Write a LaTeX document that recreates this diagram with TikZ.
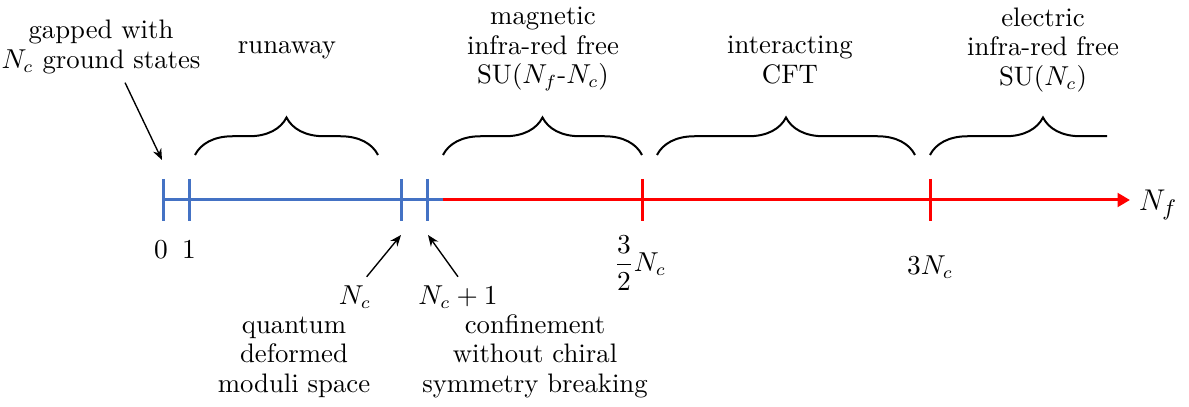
\documentclass[tikz,border=0pt]{standalone}
\usepackage{amsmath}
\usetikzlibrary{arrows.meta, decorations.pathreplacing}
\definecolor{axisblue}{RGB}{68,114,196}
\definecolor{axisred}{RGB}{255,0,0}

\begin{document}
\begin{tikzpicture}[
    x=0.4pt, y=0.4pt,
    every node/.style={align=center, font=\fontsize{10.7}{11.8}\selectfont},
    axis/.style={line width=1.2pt},
    tickmark/.style={line width=1.2pt},
    arrow/.style={-{Stealth[length=4.5pt, width=3.6pt]}, line width=0.55pt},
    phase/.style={decorate, decoration={brace, amplitude=15pt}, line width=0.8pt}
]
\useasboundingbox (0,0) rectangle (1189,407);

% points on the N_f axis
\coordinate (p0) at (163,207);
\coordinate (p1) at (189,207);
\coordinate (pNc) at (401,207);
\coordinate (pNcone) at (427,207);
\coordinate (pmid) at (443,207);
\coordinate (pthreehalf) at (642,207);
\coordinate (pthree) at (930,207);
\coordinate (pend) at (1130,207);

\draw[axis, axisblue] (p0) -- (pmid);
\draw[axis, axisred, -{Triangle[length=5pt, width=5.5pt]}] (pmid) -- (pend);

\draw[tickmark, axisblue] ([yshift=8.4pt]p0) -- ([yshift=-8.4pt]p0);
\draw[tickmark, axisblue] ([yshift=8.4pt]p1) -- ([yshift=-8.4pt]p1);
\draw[tickmark, axisblue] ([yshift=8.4pt]pNc) -- ([yshift=-8.4pt]pNc);
\draw[tickmark, axisblue] ([yshift=8.4pt]pNcone) -- ([yshift=-8.4pt]pNcone);
\draw[tickmark, axisred] ([yshift=8.4pt]pthreehalf) -- ([yshift=-8.4pt]pthreehalf);
\draw[tickmark, axisred] ([yshift=8.4pt]pthree) -- ([yshift=-8.4pt]pthree);

\node (lblzero) at (161,157) {$0$};
\node (lblone) at (189,157) {$1$};
\node (lblthreehalf) at (640,144) {$\dfrac{3}{2}N_c$};
\node (lblthree) at (930,140) {$3N_c$};
\node[font=\fontsize{13}{15}\selectfont] (lblNf) at (1158,202) {$N_f$};

% phases above the axis
\node (gap) at (101,360) {gapped with\\$N_c$ ground states};
\node (runaway) at (287,357) {runaway};
\node (magnetic) at (543,358) {magnetic\\infra-red free\\SU($N_f$-$N_c$)};
\node (cft) at (790,347) {interacting\\CFT};
\node (electric) at (1043,357) {electric\\infra-red free\\SU($N_c$)};

\draw[phase] (195,252) -- (378,252);
\draw[phase] (443,252) -- (642,252);
\draw[phase] (657,252) -- (915,252);
\begin{scope}
  \clip (920,220) rectangle (1107,300);
  \draw[phase] (930,252) -- (1156,252);
\end{scope}

% special points below the axis
\node (lblNc) at (355,110) {$N_c$};
\node (lblNcone) at (458,110) {$N_c+1$};
\node (quantum) at (294,50) {quantum\\deformed\\moduli space};
\node (confine) at (535,51) {confinement\\without chiral\\symmetry breaking};

\coordinate (tipgap) at (162,247);
\coordinate (tipNc) at (401,172);
\coordinate (tipNcone) at (428,172);
\draw[arrow] (gap.-56) -- (tipgap);
\draw[arrow] (lblNc.60) -- (tipNc);
\draw[arrow] (lblNcone.north) -- (tipNcone);

\end{tikzpicture}
\end{document}
